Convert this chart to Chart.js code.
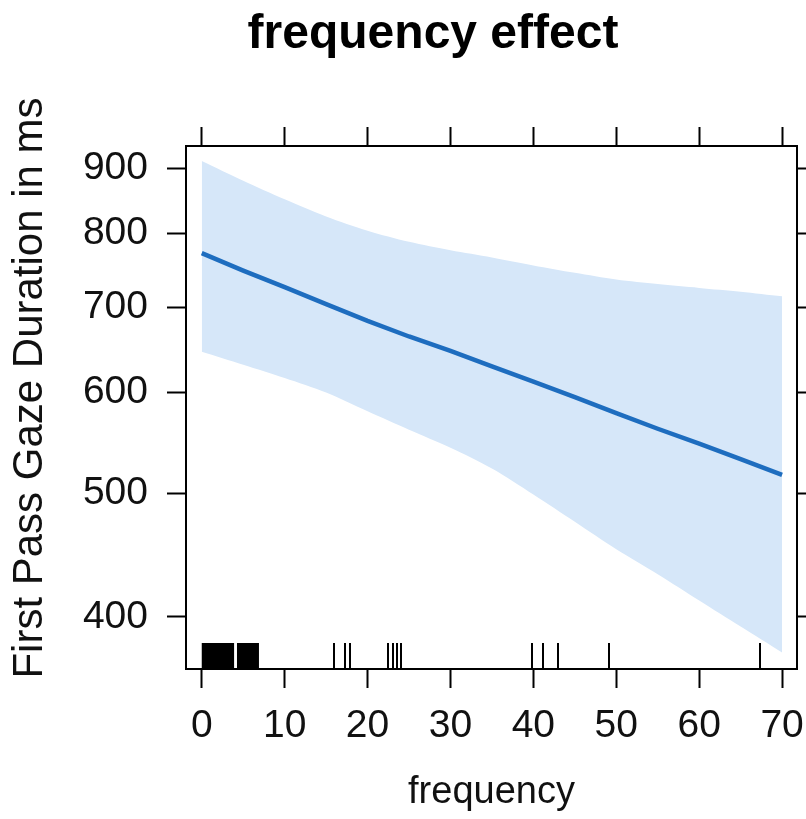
<!DOCTYPE html>
<html>
<head>
<meta charset="utf-8">
<script src="https://cdn.jsdelivr.net/npm/chart.js@4.4.1/dist/chart.umd.min.js"></script>
<style>
  html, body { margin: 0; padding: 0; background: #fff; overflow: hidden; }
  canvas { display: block; }
</style>
</head>
<body>
<canvas id="chart" width="806" height="819"></canvas>
<script>
  'use strict'

  // effect of frequency on first pass gaze duration
  const plotTitle = 'frequency effect'
  const yTitle = 'First Pass Gaze Duration in ms'
  const freqX       = [0,   5,   10,  15,  20,  25,  30,  35,  40,  45,  50,  55,  60,  65,  70]
  const fitValues   = [772, 748, 726, 704, 683, 664, 647, 629, 612, 595, 578, 562, 547, 532, 517]
  const upperValues = [912, 880, 851, 825, 804, 788, 776, 766, 755, 745, 736, 730, 725, 720, 714]
  const lowerValues = [646, 631, 616, 600, 580, 561, 543, 523, 499, 475, 452, 432, 412, 393, 375]

  // rug of observed frequencies: single ticks and the dense runs near 0
  const rugSingles = [15.9, 17.3, 17.85, 22.5, 23.1, 23.6, 24.0, 39.8, 41.2, 43.0, 49.1, 67.3]
  const rugBlocks  = [[0, 3.9], [4.25, 6.9]]

  const xTicks = [0, 10, 20, 30, 40, 50, 60, 70]
  const yTicks = [400, 500, 600, 700, 800, 900]

  const FONT = '"Liberation Sans", Arial, sans-serif'
  Chart.defaults.font.family = FONT
  Chart.defaults.color = '#111'

  const toPoints = vals => freqX.map((x, i) => ({ x, y: vals[i] }))

  const rugPlugin = {
    id: 'rug',
    afterDatasetsDraw(chart) {
      const { ctx, chartArea, scales } = chart
      const sx = scales.x
      const h = 26
      ctx.save()
      ctx.fillStyle = '#000'
      rugBlocks.forEach(([a, b]) => {
        const x0 = sx.getPixelForValue(a)
        const x1 = sx.getPixelForValue(b)
        ctx.fillRect(x0, chartArea.bottom - h, x1 - x0, h)
      })
      ctx.strokeStyle = '#000'
      ctx.lineWidth = 2
      rugSingles.forEach(v => {
        const px = Math.round(sx.getPixelForValue(v))
        ctx.beginPath()
        ctx.moveTo(px, chartArea.bottom)
        ctx.lineTo(px, chartArea.bottom - h)
        ctx.stroke()
      })
      ctx.restore()
    }
  }

  // main title and the rotated y title (placed like the lattice original)
  const textPlugin = {
    id: 'texts',
    afterDraw(chart) {
      const ctx = chart.ctx
      ctx.save()
      ctx.fillStyle = '#000'
      ctx.textAlign = 'center'
      ctx.font = 'bold 48px ' + FONT
      ctx.textBaseline = 'alphabetic'
      ctx.fillText(plotTitle, 433, 48)

      ctx.fillStyle = '#111'
      ctx.font = '42px ' + FONT
      ctx.translate(42, 388)
      ctx.rotate(-Math.PI / 2)
      ctx.fillText(yTitle, 0, 0)
      ctx.restore()
    }
  }

  const grid = { drawOnChartArea: false, drawTicks: true, tickLength: 19, tickWidth: 2, tickColor: '#000' }
  const border = { display: true, color: '#000', width: 2 }
  const setX = s => { s.ticks = xTicks.map(v => ({ value: v })) }
  const setY = s => { s.ticks = yTicks.map(v => ({ value: v })) }
  const xRange = { min: -1.9, max: 71.8 }
  const yRange = { min: 364, max: 937 }

  new Chart(document.getElementById('chart'), {
    type: 'line',
    data: {
      datasets: [
        {
          label: 'fit', data: toPoints(fitValues), xAxisID: 'x', yAxisID: 'y',
          borderColor: '#1e6dbf', borderWidth: 4.5, pointRadius: 0, fill: false, tension: 0
        },
        {
          label: 'upper', data: toPoints(upperValues), xAxisID: 'x', yAxisID: 'y',
          borderWidth: 0, borderColor: 'rgba(0,0,0,0)', pointRadius: 0,
          backgroundColor: '#d6e7f9', fill: '+1', tension: 0.3
        },
        {
          label: 'lower', data: toPoints(lowerValues), xAxisID: 'x', yAxisID: 'y',
          borderWidth: 0, borderColor: 'rgba(0,0,0,0)', pointRadius: 0, fill: false, tension: 0.3
        }
      ]
    },
    options: {
      responsive: false,
      animation: false,
      layout: { padding: { top: 127, left: 0, right: 0, bottom: 0 } },
      plugins: { legend: { display: false }, tooltip: { enabled: false } },
      scales: {
        x: {
          type: 'linear', position: 'bottom', ...xRange,
          afterBuildTicks: setX,
          afterFit: s => { s.height = 150; s.paddingLeft = 0; s.paddingRight = 0 },
          grid, border,
          ticks: { font: { size: 39 }, padding: 15, maxRotation: 0, autoSkip: false },
          title: { display: true, text: 'frequency', font: { size: 38 }, padding: 4 }
        },
        x2: {
          type: 'linear', position: 'top', ...xRange,
          afterBuildTicks: setX,
          afterFit: s => { s.height = 19; s.paddingLeft = 0; s.paddingRight = 0 },
          grid, border,
          ticks: { display: false }
        },
        y: {
          type: 'logarithmic', position: 'left', ...yRange,
          afterBuildTicks: setY,
          afterFit: s => { s.width = 186; s.paddingTop = 0; s.paddingBottom = 0 },
          grid, border,
          ticks: { font: { size: 39 }, padding: 19, callback: v => String(v) }
        },
        y2: {
          type: 'logarithmic', position: 'right', ...yRange,
          afterBuildTicks: setY,
          afterFit: s => { s.width = 9; s.paddingTop = 0; s.paddingBottom = 0 },
          grid, border,
          ticks: { display: false }
        }
      }
    },
    plugins: [rugPlugin, textPlugin]
  })
</script>
</body>
</html>
